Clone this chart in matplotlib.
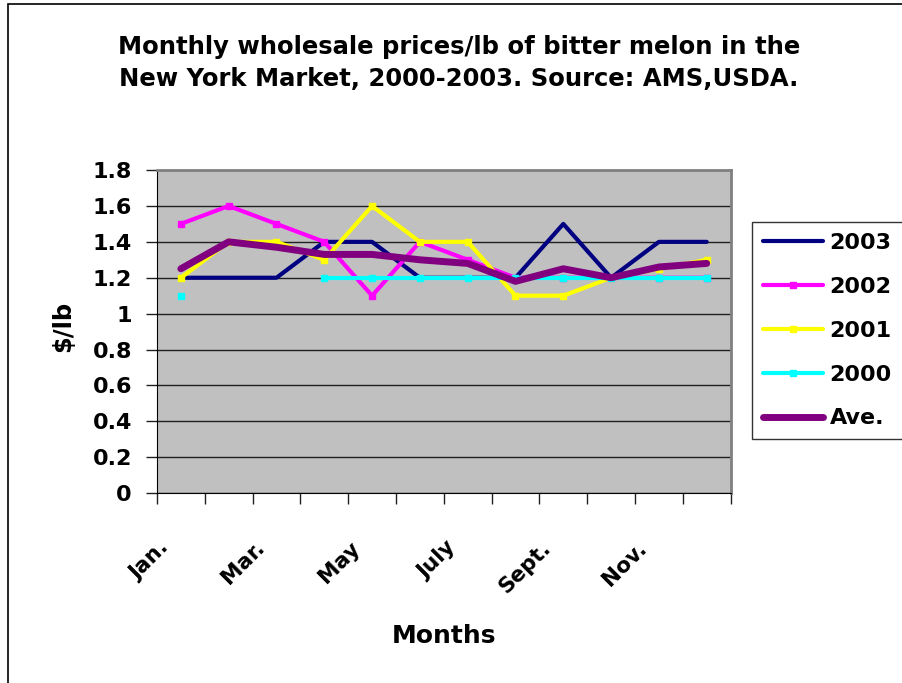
import numpy as np
import matplotlib.pyplot as plt
from matplotlib.patches import Rectangle

plt.rcParams['font.family'] = ['DejaVu Sans']
plt.rcParams['font.weight'] = 'bold'

# monthly prices, $/lb (nan = no data)
months = ['Jan.', 'Feb.', 'Mar.', 'Apr.', 'May', 'June', 'July', 'Aug.', 'Sept.', 'Oct.', 'Nov.', 'Dec.']
y2003 = [1.2, 1.2, 1.2, 1.4, 1.4, 1.2, 1.2, 1.2, 1.5, 1.2, 1.4, 1.4]
y2002 = [1.5, 1.6, 1.5, 1.4, 1.1, 1.4, 1.3, 1.2, 1.2, 1.2, 1.2, 1.2]
y2001 = [1.2, 1.4, 1.4, 1.3, 1.6, 1.4, 1.4, 1.1, 1.1, 1.2, 1.25, 1.3]
y2000 = [1.1, np.nan, np.nan, 1.2, 1.2, 1.2, 1.2, 1.2, 1.2, 1.2, 1.2, 1.2]
ave = [1.25, 1.4, 1.37, 1.33, 1.33, 1.3, 1.28, 1.18, 1.25, 1.2, 1.26, 1.28]

series = [
    ('2003', y2003, '#000080', 3.0, None),
    ('2002', y2002, '#ff00ff', 3.0, 's'),
    ('2001', y2001, '#ffff00', 3.0, 's'),
    ('2000', y2000, '#00ffff', 3.0, 's'),
    ('Ave.', ave, '#800080', 5.0, None),
]

fig = plt.figure(figsize=(9.02, 6.83), dpi=100)
ax = fig.add_axes([0.174, 0.278, 0.636, 0.473])
ax.set_facecolor('#c0c0c0')

x = np.arange(len(months))
for name, vals, col, lw, mk in series:
    ax.plot(x, vals, color=col, lw=lw, marker=mk, markersize=5,
            markeredgecolor=col, solid_capstyle='round', label=name)

ax.set_xlim(-0.5, len(months) - 0.5)
ax.set_ylim(0, 1.8)
ax.set_yticks(np.arange(0, 1.81, 0.2))
ax.set_yticklabels(['0', '0.2', '0.4', '0.6', '0.8', '1', '1.2', '1.4', '1.6', '1.8'],
                   fontsize=16, fontweight='bold')
ax.yaxis.grid(True, color='#202020', lw=1)
ax.set_axisbelow(True)

# ticks between categories, labels on every other month
ax.set_xticks(np.arange(-0.5, len(months), 1))
ax.set_xticklabels([])
for i in range(0, len(months), 2):
    ax.annotate(months[i], xy=(x[i], 0), xytext=(-6, -32), textcoords='offset points',
                rotation=45, ha='right', va='top', fontsize=15.5, fontweight='bold')
ax.tick_params(axis='both', direction='out', length=8, width=1, color='#202020')
ax.tick_params(axis='y', pad=10)

for s in ['top', 'right']:
    ax.spines[s].set_color('#808080')
    ax.spines[s].set_linewidth(2)
for s in ['left', 'bottom']:
    ax.spines[s].set_color('black')

ax.set_ylabel('$/lb', fontsize=17.5, fontweight='bold')
ax.yaxis.set_label_coords(-0.143, 0.517)
fig.text(0.492, 0.069, 'Months', ha='center', va='center', fontsize=18, fontweight='bold')

fig.text(0.509, 0.908, 'Monthly wholesale prices/lb of bitter melon in the\n'
         'New York Market, 2000-2003. Source: AMS,USDA.',
         ha='center', va='center', fontsize=17.5, fontweight='bold', linespacing=1.45)

leg = ax.legend(loc='upper left', bbox_to_anchor=(1.037, 0.839), frameon=True,
                fancybox=False, edgecolor='black', fontsize=16, handlelength=2.7,
                handletextpad=0.3, labelspacing=1.07, borderpad=0.5, borderaxespad=0)
leg.get_frame().set_linewidth(1)

# outer chart frame
fig.patches.append(Rectangle((8 / 902, -0.05), 1.1, 1 - 4 / 683 + 0.05,
                             transform=fig.transFigure, fill=False,
                             edgecolor='black', lw=1.2))

fig.savefig('out.png', dpi=100)
